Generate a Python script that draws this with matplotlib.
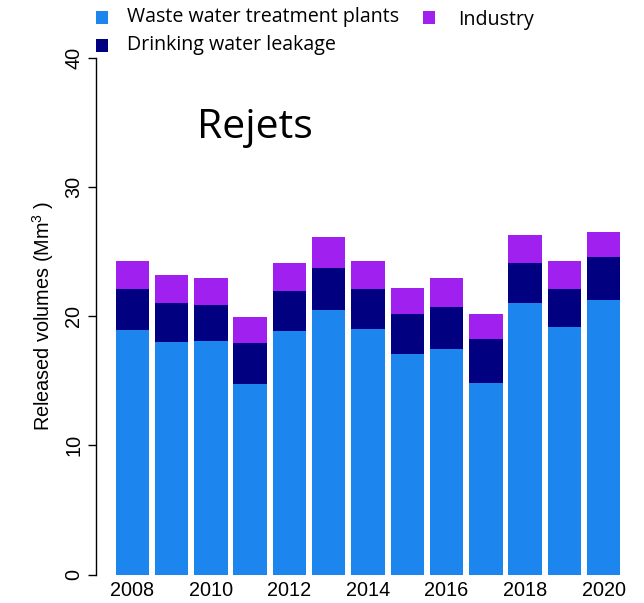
import numpy as np
import matplotlib
matplotlib.use("Agg")
import matplotlib.pyplot as plt
from matplotlib.patches import Rectangle

# Data (Mm3)
years = [2008, 2009, 2010, 2011, 2012, 2013, 2014, 2015, 2016, 2017, 2018, 2019, 2020]
wwtp = [18.9, 18.0, 18.1, 14.75, 18.85, 20.5, 19.05, 17.05, 17.5, 14.8, 21.0, 19.2, 21.25]
leakage = [3.2, 3.0, 2.75, 3.15, 3.1, 3.2, 3.05, 3.15, 3.2, 3.4, 3.1, 2.9, 3.35]
industry = [2.2, 2.2, 2.15, 2.05, 2.15, 2.4, 2.2, 2.0, 2.25, 2.0, 2.2, 2.2, 1.9]
labels = ["Waste water treatment plants", "Drinking water leakage", "Industry"]
colors = ["#1C86EE", "#000080", "#A020F0"]

plt.rcParams["font.family"] = "Liberation Sans"
plt.rcParams["mathtext.fontset"] = "custom"
plt.rcParams["mathtext.rm"] = "Liberation Sans"
plt.rcParams["mathtext.it"] = "Liberation Sans"

fig = plt.figure(figsize=(6.44, 6.03), dpi=100)
ax = fig.add_axes([96 / 644, (603 - 574.5) / 603, 544 / 644, 516.5 / 603])

x = np.arange(len(years))
bottom = np.zeros(len(years))
for vals, col in zip([wwtp, leakage, industry], colors):
    ax.bar(x, vals, width=0.85, bottom=bottom, color=col, linewidth=0)
    bottom += np.array(vals)

ax.set_xlim(-0.925, 12.925)
ax.set_ylim(0, 40)
ax.set_yticks([0, 10, 20, 30, 40])
ax.set_yticklabels(["0", "10", "20", "30", "40"], rotation=90, va="center")
ax.tick_params(axis="y", direction="out", length=6, width=1, labelsize=14.3, pad=3)
xt = [i for i, y in enumerate(years) if y % 2 == 0]
ax.set_xticks(xt)
ax.set_xticklabels([str(years[i]) for i in xt])
ax.tick_params(axis="x", length=0, labelsize=14.3, pad=5)
for s in ["top", "right", "bottom"]:
    ax.spines[s].set_visible(False)
ax.spines["left"].set_linewidth(1)

ax.set_ylabel(r"Released volumes (Mm$^{\mathrm{3}}$ )", fontsize=14.3, labelpad=6)

# title inside the plot
fig.text(255 / 644, 1 - 138 / 603, "Rejets", fontsize=29.5, family="Open Sans",
         ha="center", va="baseline")

# legend, R style: boxes and text laid out by hand
leg_box = [(96, 11), (96, 39), (423, 11)]
leg_txt = [(127, 17), (127, 45), (458, 20)]
for (bx, by), (tx, ty), lab, col in zip(leg_box, leg_txt, labels, colors):
    fig.patches.append(Rectangle((bx / 644, 1 - (by + 13) / 603), 12 / 644, 13 / 603,
                                 transform=fig.transFigure, color=col, lw=0))
    fig.text(tx / 644, 1 - ty / 603, lab, fontsize=14.1, family="Open Sans",
             va="center", ha="left")

fig.savefig("out.png", dpi=100)
